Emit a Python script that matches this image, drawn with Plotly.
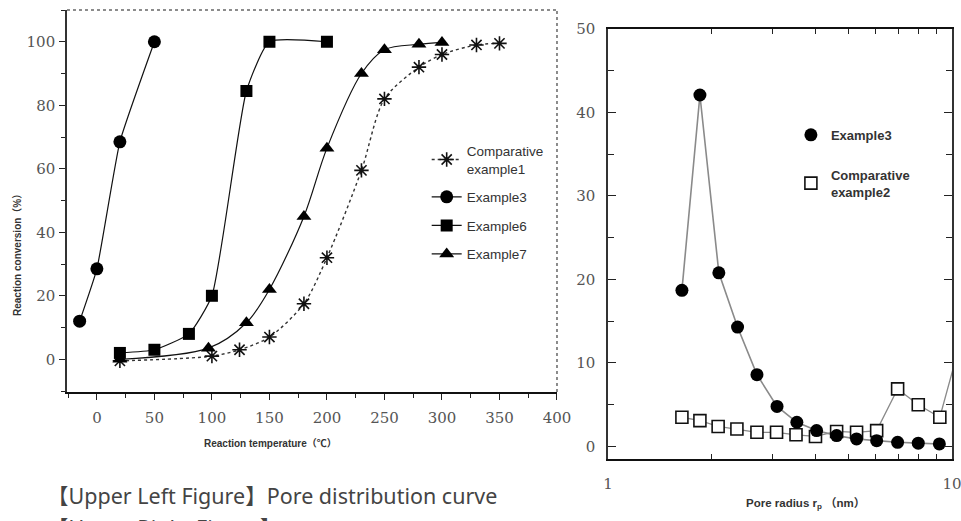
import plotly.graph_objects as go

# ---------------- Left chart: reaction conversion vs temperature ----------------
temp_comp1 = [20, 100, 124, 150, 180, 200, 230, 250, 280, 300, 330, 350]
conv_comp1 = [-0.5, 1, 3, 7, 17.5, 32, 59.5, 82, 92, 96, 99, 99.5]

temp_ex3 = [-15, 0, 20, 50]
conv_ex3 = [12, 28.5, 68.5, 100]

temp_ex6 = [20, 50, 80, 100, 130, 150, 200]
conv_ex6 = [2, 3, 8, 20, 84.5, 100, 100]

temp_ex7 = [20, 97, 130, 150, 180, 200, 230, 250, 280, 300]
conv_ex7 = [0, 3.5, 11.5, 22, 45, 66.5, 90, 97.5, 99.2, 99.8]

temp_ticks = [0, 50, 100, 150, 200, 250, 300, 350, 400]
conv_ticks = [0, 20, 40, 60, 80, 100]

# ---------------- Right chart: pore distribution ----------------
radius_ex3 = [1.64, 1.85, 2.10, 2.38, 2.71, 3.10, 3.54, 4.04, 4.62, 5.28, 6.04, 6.95, 7.98, 9.19]
dist_ex3 = [18.7, 42.1, 20.8, 14.3, 8.6, 4.8, 2.9, 1.9, 1.3, 0.9, 0.7, 0.5, 0.4, 0.3]

radius_comp2 = [1.64, 1.85, 2.09, 2.37, 2.71, 3.09, 3.52, 4.01, 4.62, 5.28, 6.04, 6.95, 7.98, 9.22, 10.5]
dist_comp2 = [3.5, 3.1, 2.4, 2.1, 1.7, 1.7, 1.4, 1.2, 1.8, 1.7, 1.9, 6.9, 5.0, 3.5, 12]

dist_ticks = [0, 10, 20, 30, 40, 50]

SANS = "Arial, Liberation Sans, Noto Sans CJK SC, sans-serif"
CAPTION = "Noto Sans, Arial, Noto Sans CJK SC, sans-serif"
SERIF = "DejaVu Serif, Liberation Serif, serif"

fig = go.Figure()

# Left chart traces
fig.add_trace(go.Scatter(
    x=temp_comp1, y=conv_comp1, name="Comparative<br>example1",
    mode="lines+markers", line=dict(color="#333", width=1.4, dash="dot", shape="spline", smoothing=0.8),
    marker=dict(symbol="asterisk", size=12, line=dict(color="#111", width=1.6), color="#111"),
    xaxis="x", yaxis="y", legend="legend", legendgroup="c1"))
fig.add_trace(go.Scatter(
    x=temp_ex3, y=conv_ex3, name="Example3",
    mode="lines+markers", line=dict(color="#111", width=1.2, shape="spline", smoothing=0.4),
    marker=dict(symbol="circle", size=13, color="#000"),
    xaxis="x", yaxis="y", legend="legend", legendgroup="e3"))
fig.add_trace(go.Scatter(
    x=temp_ex6, y=conv_ex6, name="Example6",
    mode="lines+markers", line=dict(color="#111", width=1.2, shape="spline", smoothing=0.5),
    marker=dict(symbol="square", size=12, color="#000"),
    xaxis="x", yaxis="y", legend="legend", legendgroup="e6"))
fig.add_trace(go.Scatter(
    x=temp_ex7, y=conv_ex7, name="Example7",
    mode="lines+markers", line=dict(color="#111", width=1.2, shape="spline", smoothing=0.9),
    marker=dict(symbol="triangle-up", size=13, color="#000"),
    xaxis="x", yaxis="y", legend="legend", legendgroup="e7"))

# Right chart traces (lines, then markers)
fig.add_trace(go.Scatter(
    x=radius_comp2, y=dist_comp2, mode="lines", line=dict(color="#8a8a8a", width=1.3),
    showlegend=False, xaxis="x2", yaxis="y2", hoverinfo="skip"))
fig.add_trace(go.Scatter(
    x=radius_ex3, y=dist_ex3, mode="lines", line=dict(color="#8a8a8a", width=1.6),
    showlegend=False, xaxis="x2", yaxis="y2", hoverinfo="skip"))
fig.add_trace(go.Scatter(
    x=radius_comp2, y=dist_comp2, name="Comparative<br>example2", mode="markers",
    marker=dict(symbol="square", size=12, color="white", line=dict(color="#111", width=1.6)),
    xaxis="x2", yaxis="y2", legend="legend2", legendgroup="c2", legendrank=2))
fig.add_trace(go.Scatter(
    x=radius_ex3, y=dist_ex3, name="Example3", mode="markers",
    marker=dict(symbol="circle", size=13, color="#000"),
    xaxis="x2", yaxis="y2", legend="legend2", legendgroup="r3", legendrank=1))

tickfont = dict(family=SERIF, size=15, color="#555")

fig.update_layout(
    width=961, height=521,
    margin=dict(l=0, r=0, t=0, b=0, autoexpand=False),
    paper_bgcolor="white", plot_bgcolor="white",
    showlegend=True,
    xaxis=dict(
        domain=[0.0697, 0.5796], anchor="y", range=[-26, 400], automargin=False,
        tickmode="array", tickvals=temp_ticks, ticks="outside", ticklen=6, tickwidth=1.2,
        tickcolor="#222", ticklabelstandoff=5,
        minor=dict(dtick=25, tick0=0, ticks="outside", ticklen=4, tickcolor="#222", showgrid=False),
        showline=True, linecolor="#111", linewidth=1.5, showgrid=False, zeroline=False,
        tickfont=tickfont),
    yaxis=dict(
        domain=[0.2476, 0.9808], anchor="x", range=[-10.3, 110], automargin=False,
        tickmode="array", tickvals=conv_ticks, ticks="outside", ticklen=6, tickwidth=1.2,
        tickcolor="#222", ticklabelstandoff=1,
        minor=dict(dtick=10, tick0=0, ticks="outside", ticklen=4, tickcolor="#222", showgrid=False),
        showline=True, linecolor="#333", linewidth=1.5, showgrid=False, zeroline=False,
        tickfont=tickfont),
    xaxis2=dict(
        domain=[0.6327, 0.9906], anchor="y2", type="log", range=[0, 1], automargin=False,
        tickmode="array", tickvals=[1, 10], ticktext=["1", "10"], ticklabeloverflow="allow",
        ticks="inside", ticklen=8, tickwidth=1.2, tickcolor="#222", ticklabelstandoff=10,
        minor=dict(tickvals=[2, 3, 4, 5, 6, 7, 8, 9], ticks="inside", ticklen=5,
                   tickcolor="#222", showgrid=False),
        showline=True, linecolor="#111", linewidth=1.5, mirror="allticks",
        showgrid=False, zeroline=False, tickfont=tickfont),
    yaxis2=dict(
        domain=[0.119, 0.9443], anchor="x2", range=[-1.5, 50], automargin=False,
        tickmode="array", tickvals=dist_ticks, ticks="inside", ticklen=8, tickwidth=1.2,
        tickcolor="#222", ticklabelstandoff=8,
        minor=dict(dtick=5, tick0=0, ticks="inside", ticklen=6, tickcolor="#222", showgrid=False),
        showline=True, linecolor="#333", linewidth=1.5, mirror="allticks",
        showgrid=False, zeroline=False, tickfont=tickfont),
    legend=dict(
        x=0.444, y=0.74, xanchor="left", yanchor="top",
        bgcolor="rgba(0,0,0,0)", tracegroupgap=8, itemwidth=30,
        font=dict(family=SANS, size=13.5, color="#333")),
    legend2=dict(
        x=0.823, y=0.77, xanchor="left", yanchor="top",
        bgcolor="rgba(0,0,0,0)", tracegroupgap=20, traceorder="grouped",
        font=dict(family=SANS, size=13, color="#333", weight="bold")),
)

# dotted top/right frame of the left chart
fig.add_shape(type="line", xref="x domain", yref="y domain", x0=0, x1=1, y0=1, y1=1,
              line=dict(color="#666", width=1.5, dash="dot"))
fig.add_shape(type="line", xref="x domain", yref="y domain", x0=1, x1=1, y0=0, y1=1,
              line=dict(color="#666", width=1.5, dash="dot"))

annos = [
    dict(text="Reaction conversion（%）", x=18 / 961, y=1 - 253 / 521, textangle=-90,
         font=dict(family=SANS, size=10, color="#333", weight="bold")),
    dict(text="Reaction temperature（℃）", x=270 / 961, y=1 - 443 / 521,
         font=dict(family=SANS, size=10, color="#333", weight="bold")),
    dict(text="Pore radius r<sub>p</sub> （nm）", x=805 / 961, y=1 - 503 / 521,
         font=dict(family=SANS, size=11.5, color="#333", weight="bold")),
    dict(text="【Upper Left Figure】Pore distribution curve", x=45 / 961, y=1 - 495 / 521,
         xanchor="left", font=dict(family=CAPTION, size=21.5, color="#444")),
    dict(text="【Upper Right Figure】", x=45 / 961, y=1 - 527 / 521,
         xanchor="left", font=dict(family=CAPTION, size=21.5, color="#444")),
]
for a in annos:
    a.setdefault("xanchor", "center")
    fig.add_annotation(xref="paper", yref="paper", showarrow=False, yanchor="middle", **a)

fig.write_html(
    "out.html",
    config={"displayModeBar": False},
    post_script="document.body.style.margin='0';document.body.style.overflow='hidden';",
)
